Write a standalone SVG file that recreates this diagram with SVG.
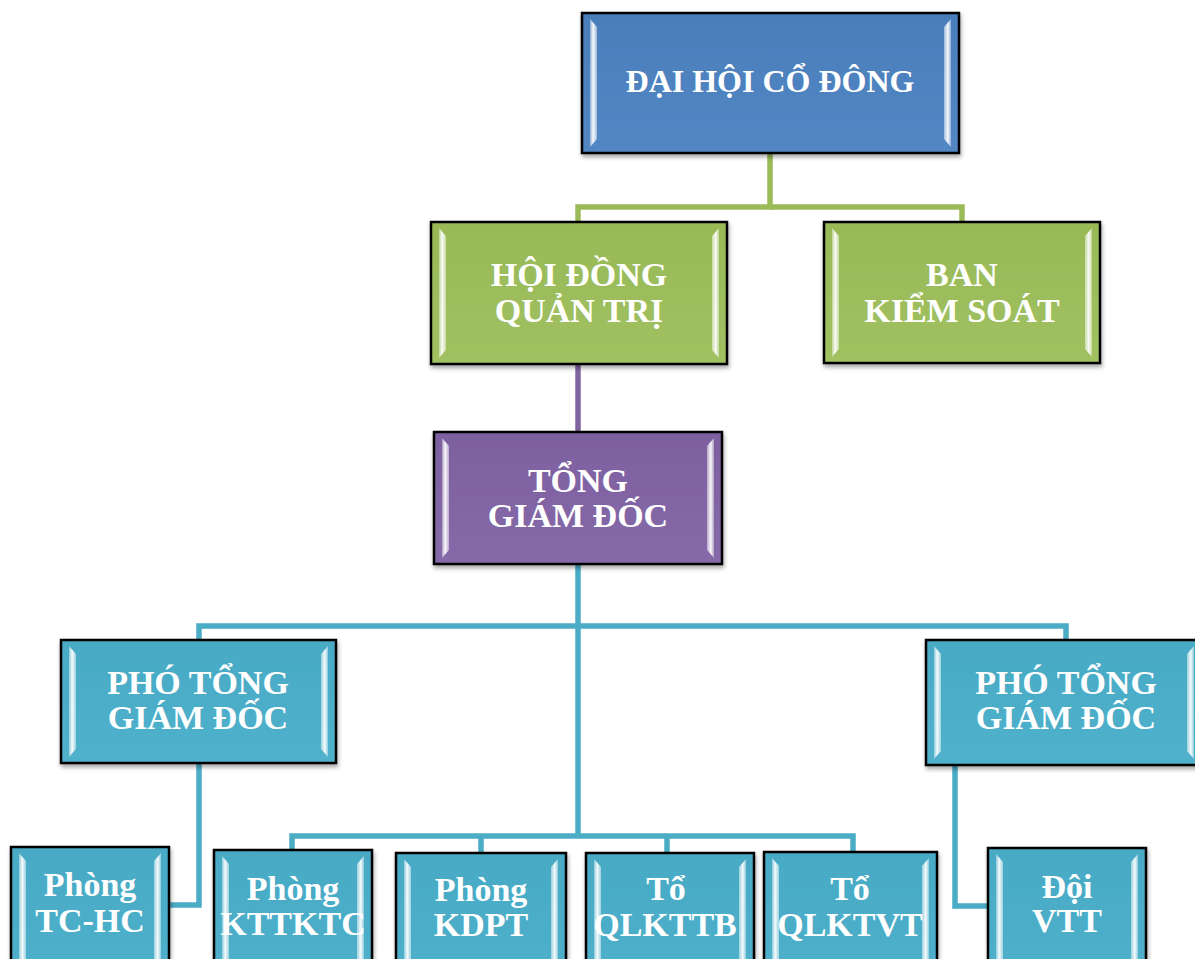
<svg xmlns="http://www.w3.org/2000/svg" width="1195" height="959" viewBox="0 0 1195 959">
<style>
.box{stroke:#000;stroke-width:2.5;filter:url(#sh)}
.blue{fill:url(#gBlue)}
.green{fill:url(#gGreen)}
.purple{fill:url(#gPurple)}
.teal{fill:url(#gTeal)}
.bl{fill:url(#bevL)}
.br{fill:url(#bevR)}
.t{font-family:"Liberation Serif","Times New Roman",serif;font-weight:bold;font-size:34px;fill:#fff;text-anchor:middle}
.c{fill:none;stroke-width:5.5;stroke-linejoin:miter;stroke-linecap:butt}
.cg{stroke:#9BBB59}
.cp{stroke:#8064A2}
.ct{stroke:#4BACC6}
</style>
<defs>
<filter id="sh" x="-10%" y="-10%" width="120%" height="130%">
<feDropShadow dx="1" dy="3" stdDeviation="2" flood-color="#000" flood-opacity="0.35"/>
</filter>
<linearGradient id="gBlue" x1="0" y1="0" x2="0" y2="1"><stop offset="0" stop-color="#4A7EBB"/><stop offset="1" stop-color="#5287C4"/></linearGradient>
<linearGradient id="gGreen" x1="0" y1="0" x2="0" y2="1"><stop offset="0" stop-color="#98B956"/><stop offset="1" stop-color="#A1C162"/></linearGradient>
<linearGradient id="gPurple" x1="0" y1="0" x2="0" y2="1"><stop offset="0" stop-color="#7D60A0"/><stop offset="1" stop-color="#8669A8"/></linearGradient>
<linearGradient id="gTeal" x1="0" y1="0" x2="0" y2="1"><stop offset="0" stop-color="#48AAC5"/><stop offset="1" stop-color="#50B1CB"/></linearGradient>
<linearGradient id="bevL" x1="0" y1="0" x2="1" y2="0"><stop offset="0" stop-color="#fff" stop-opacity="0.35"/><stop offset="0.45" stop-color="#fff" stop-opacity="0.95"/><stop offset="1" stop-color="#fff" stop-opacity="0.45"/></linearGradient>
<linearGradient id="bevR" x1="1" y1="0" x2="0" y2="0"><stop offset="0" stop-color="#fff" stop-opacity="0.35"/><stop offset="0.45" stop-color="#fff" stop-opacity="0.95"/><stop offset="1" stop-color="#fff" stop-opacity="0.45"/></linearGradient>
</defs>
<rect width="1195" height="959" fill="#fff"/>
<g id="connectors">
<polyline class="c cg" points="770,153 770,207 578,207 578,222"/>
<polyline class="c cg" points="770,207 962,207 962,222"/>
<polyline class="c cp" points="578,364 578,432"/>
<polyline class="c ct" points="578,564 578,836"/>
<polyline class="c ct" points="199,640 199,626 1066,626 1066,640"/>
<polyline class="c ct" points="199,763 199,905 169,905"/>
<polyline class="c ct" points="955,765 955,906 988,906"/>
<polyline class="c ct" points="292,850 292,836 853,836 853,852"/>
<polyline class="c ct" points="481,836 481,853"/>
<polyline class="c ct" points="667,836 667,853"/>
</g>
<g id="n-daihoicodong">
<rect class="box blue" x="582" y="13" width="377" height="140"/>
<polygon class="bl" points="590,19 597,27 597,139 590,147"/>
<polygon class="br" points="951,19 944,27 944,139 951,147"/>
<text class="t" x="770" y="92" style="font-size:32px">ĐẠI HỘI CỔ ĐÔNG</text>
</g>
<g id="n-hoidongquantri">
<rect class="box green" x="431" y="222" width="296" height="142"/>
<polygon class="bl" points="439,228 446,236 446,350 439,358"/>
<polygon class="br" points="719,228 712,236 712,350 719,358"/>
<text class="t" x="579" y="286">HỘI ĐỒNG</text>
<text class="t" x="579" y="322">QUẢN TRỊ</text>
</g>
<g id="n-bankiemsoat">
<rect class="box green" x="824" y="222" width="276" height="141"/>
<polygon class="bl" points="832,228 839,236 839,349 832,357"/>
<polygon class="br" points="1092,228 1085,236 1085,349 1092,357"/>
<text class="t" x="962" y="286">BAN</text>
<text class="t" x="962" y="322">KIỂM SOÁT</text>
</g>
<g id="n-tonggiamdoc">
<rect class="box purple" x="434" y="432" width="288" height="132"/>
<polygon class="bl" points="442,438 449,446 449,550 442,558"/>
<polygon class="br" points="714,438 707,446 707,550 714,558"/>
<text class="t" x="578" y="492">TỔNG</text>
<text class="t" x="578" y="527">GIÁM ĐỐC</text>
</g>
<g id="n-ptgd1">
<rect class="box teal" x="61" y="640" width="275" height="123"/>
<polygon class="bl" points="69,646 76,654 76,749 69,757"/>
<polygon class="br" points="328,646 321,654 321,749 328,757"/>
<text class="t" x="198" y="694">PHÓ TỔNG</text>
<text class="t" x="198" y="729">GIÁM ĐỐC</text>
</g>
<g id="n-ptgd2">
<rect class="box teal" x="926" y="640" width="276" height="125"/>
<polygon class="bl" points="934,646 941,654 941,751 934,759"/>
<polygon class="br" points="1194,646 1187,654 1187,751 1194,759"/>
<text class="t" x="1066" y="694">PHÓ TỔNG</text>
<text class="t" x="1066" y="729">GIÁM ĐỐC</text>
</g>
<g id="n-tchc">
<rect class="box teal" x="11" y="847" width="158" height="150"/>
<polygon class="bl" points="19,853 26,861 26,1000 19,1000"/>
<polygon class="br" points="161,853 154,861 154,1000 161,1000"/>
<text class="t" x="90" y="896">Phòng</text>
<text class="t" x="90" y="932">TC-HC</text>
</g>
<g id="n-kttktc">
<rect class="box teal" x="214" y="850" width="158" height="150"/>
<polygon class="bl" points="222,856 229,864 229,1000 222,1000"/>
<polygon class="br" points="364,856 357,864 357,1000 364,1000"/>
<text class="t" x="293" y="900">Phòng</text>
<text class="t" x="293" y="935">KTTKTC</text>
</g>
<g id="n-kdpt">
<rect class="box teal" x="396" y="853" width="170" height="150"/>
<polygon class="bl" points="404,859 411,867 411,1000 404,1000"/>
<polygon class="br" points="558,859 551,867 551,1000 558,1000"/>
<text class="t" x="481" y="901">Phòng</text>
<text class="t" x="481" y="936">KDPT</text>
</g>
<g id="n-qlkttb">
<rect class="box teal" x="586" y="853" width="168" height="150"/>
<polygon class="bl" points="594,859 601,867 601,1000 594,1000"/>
<polygon class="br" points="746,859 739,867 739,1000 746,1000"/>
<text class="t" x="666" y="900">Tổ</text>
<text class="t" x="665" y="936">QLKTTB</text>
</g>
<g id="n-qlktvt">
<rect class="box teal" x="764" y="852" width="173" height="150"/>
<polygon class="bl" points="772,858 779,866 779,1000 772,1000"/>
<polygon class="br" points="929,858 922,866 922,1000 929,1000"/>
<text class="t" x="850" y="900">Tổ</text>
<text class="t" x="850" y="936">QLKTVT</text>
</g>
<g id="n-doivtt">
<rect class="box teal" x="988" y="848" width="158" height="150"/>
<polygon class="bl" points="996,854 1003,862 1003,1000 996,1000"/>
<polygon class="br" points="1138,854 1131,862 1131,1000 1138,1000"/>
<text class="t" x="1067" y="898">Đội</text>
<text class="t" x="1067" y="932">VTT</text>
</g>
</svg>
